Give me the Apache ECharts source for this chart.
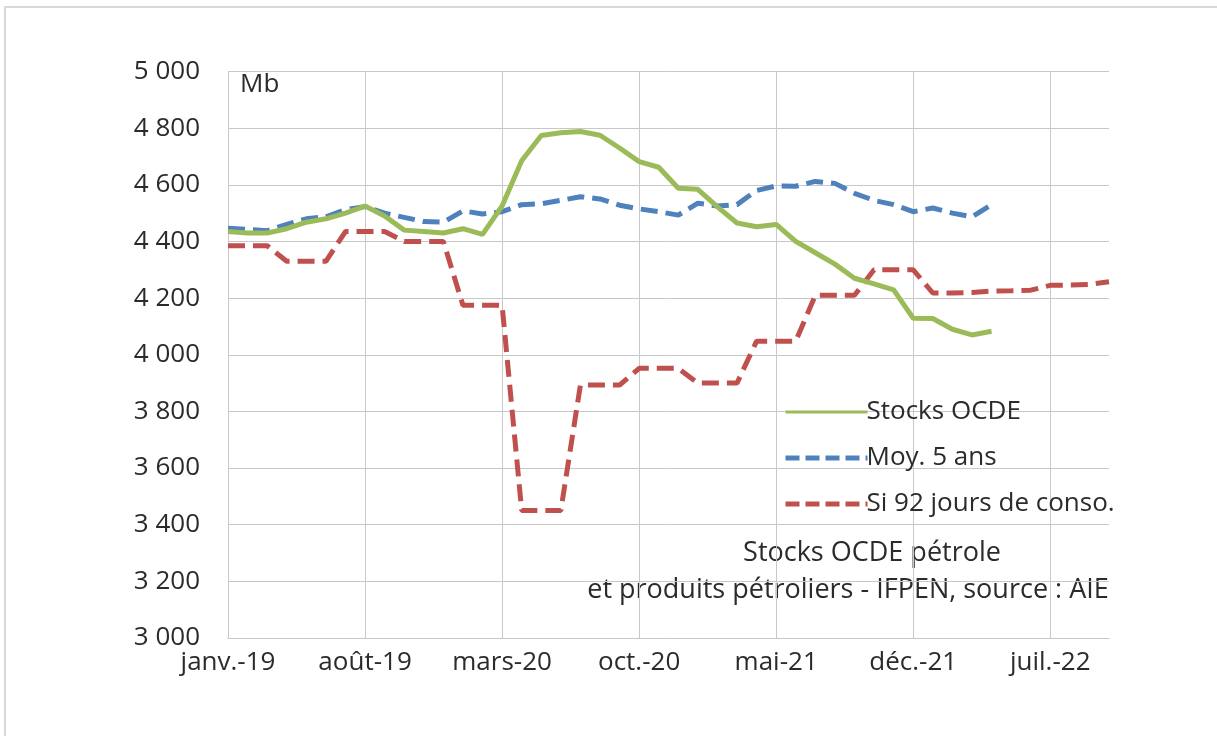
<!DOCTYPE html>
<html>
<head>
<meta charset="utf-8">
<script src="https://cdn.jsdelivr.net/npm/echarts@6/dist/echarts.min.js"></script>
<style>
  html, body { margin: 0; padding: 0; background: #fff; }
  #chart { width: 1217px; height: 736px; }
</style>
</head>
<body>
<div id="chart"></div>
<script>
// mois (janv. 2019 -> oct. 2022)
const months = [
  'janv.-19', 'févr.-19', 'mars-19', 'avr.-19', 'mai-19', 'juin-19', 'juil.-19', 'août-19', 'sept.-19', 'oct.-19', 'nov.-19', 'déc.-19',
  'janv.-20', 'févr.-20', 'mars-20', 'avr.-20', 'mai-20', 'juin-20', 'juil.-20', 'août-20', 'sept.-20', 'oct.-20', 'nov.-20', 'déc.-20',
  'janv.-21', 'févr.-21', 'mars-21', 'avr.-21', 'mai-21', 'juin-21', 'juil.-21', 'août-21', 'sept.-21', 'oct.-21', 'nov.-21', 'déc.-21',
  'janv.-22', 'févr.-22', 'mars-22', 'avr.-22', 'mai-22', 'juin-22', 'juil.-22', 'août-22', 'sept.-22', 'oct.-22'
]

// Mb
const stocksOcde = [
  4435, 4430, 4430, 4445, 4468, 4480, 4500, 4525, 4490, 4440, 4435, 4430,
  4445, 4425, 4525, 4685, 4774, 4784, 4788, 4775, 4730, 4682, 4662, 4588,
  4584, 4522, 4465, 4452, 4460, 4400, 4360, 4320, 4270, 4250, 4229, 4129,
  4128, 4090, 4070, 4083
]

const moy5ans = [
  4447, 4442, 4438, 4460, 4480, 4487, 4512, 4523, 4500, 4485, 4470, 4468,
  4508, 4497, 4505, 4530, 4533, 4545, 4558, 4550, 4528, 4515, 4505, 4493,
  4535, 4525, 4530, 4580, 4596, 4595, 4612, 4605, 4570, 4545, 4530, 4505,
  4518, 4500, 4487, 4530
]

const si92jours = [
  4385, 4385, 4385, 4330, 4330, 4330, 4435, 4435, 4435, 4400, 4400, 4400,
  4175, 4175, 4175, 3450, 3450, 3450, 3893, 3893, 3893, 3952, 3952, 3952,
  3900, 3900, 3900, 4048, 4048, 4048, 4210, 4210, 4210, 4300, 4300, 4300,
  4218, 4218, 4220, 4225, 4226, 4228, 4245, 4246, 4248, 4258
]

const font = '"Open Sans", sans-serif'
const gridColor = '#c8c8c8'
const dash = [17, 8]

const chart = echarts.init(document.getElementById('chart'))

chart.setOption({
  animation: false,
  backgroundColor: '#fff',
  textStyle: { fontFamily: font },
  grid: { left: 228, right: 108, top: 71.5, bottom: 98 },
  xAxis: {
    type: 'category',
    data: months,
    boundaryGap: false,
    axisLine: { lineStyle: { color: gridColor, width: 1 } },
    axisTick: { show: false },
    axisLabel: { interval: 6, color: '#2b2b2b', fontSize: 26, margin: 12, fontFamily: font },
    splitLine: { show: true, interval: 6, lineStyle: { color: gridColor, width: 1 } }
  },
  yAxis: {
    type: 'value',
    min: 3000,
    max: 5000,
    interval: 200,
    axisLine: { show: false },
    axisTick: { show: false },
    axisLabel: {
      color: '#2b2b2b',
      fontSize: 26,
      margin: 28,
      fontFamily: font,
      formatter: v => String(v).replace(/\B(?=(\d{3})+$)/, ' ')
    },
    splitLine: { lineStyle: { color: gridColor, width: 1 } }
  },
  legend: {
    orient: 'vertical',
    left: 778,
    top: 394,
    itemWidth: 82,
    itemHeight: 14,
    itemGap: 20,
    itemStyle: { opacity: 0 },
    textStyle: { fontSize: 26, color: '#2b2b2b', fontFamily: font, padding: [0, 0, 0, -6] },
    data: [
      { name: 'Stocks OCDE', lineStyle: { width: 3, type: 'solid' } },
      { name: 'Moy. 5 ans', lineStyle: { width: 5, type: [14, 6] } },
      { name: 'Si 92 jours de conso.', lineStyle: { width: 5, type: [14, 6] } }
    ]
  },
  series: [
    {
      name: 'Stocks OCDE',
      type: 'line',
      data: stocksOcde,
      symbol: 'none',
      color: '#9bbb59',
      lineStyle: { color: '#9bbb59', width: 5 },
      z: 3
    },
    {
      name: 'Moy. 5 ans',
      type: 'line',
      data: moy5ans,
      symbol: 'none',
      color: '#4f81bd',
      lineStyle: { color: '#4f81bd', width: 5, type: dash },
      z: 2
    },
    {
      name: 'Si 92 jours de conso.',
      type: 'line',
      data: si92jours,
      symbol: 'none',
      color: '#c0504d',
      lineStyle: { color: '#c0504d', width: 5, type: dash },
      z: 2
    }
  ],
  graphic: [
    {
      type: 'rect',
      shape: { x: 5, y: 7, width: 1400, height: 900 },
      style: { fill: 'none', stroke: '#d9d9d9', lineWidth: 2 },
      silent: true
    },
    {
      type: 'text',
      left: 240,
      top: 72,
      style: { text: 'Mb', font: '26px ' + font, fill: '#2b2b2b' }
    },
    {
      type: 'text',
      x: 872,
      y: 553,
      style: { text: 'Stocks OCDE pétrole', font: '27px ' + font, fill: '#2b2b2b', align: 'center', verticalAlign: 'middle' }
    },
    {
      type: 'text',
      x: 848,
      y: 590,
      style: { text: 'et produits pétroliers - IFPEN, source : AIE', font: '27px ' + font, fill: '#2b2b2b', align: 'center', verticalAlign: 'middle' }
    }
  ]
})
</script>
</body>
</html>
